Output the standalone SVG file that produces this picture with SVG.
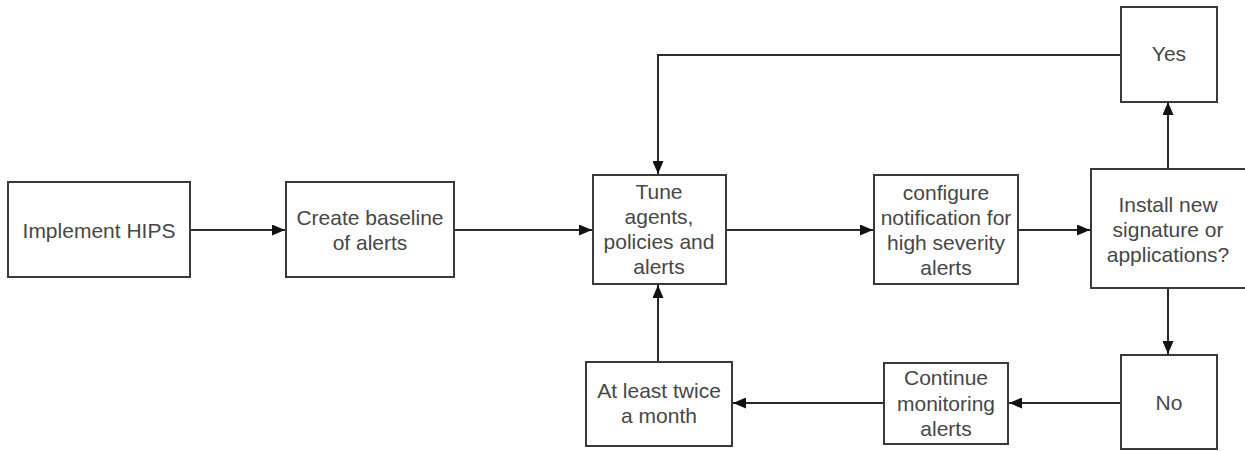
<svg xmlns="http://www.w3.org/2000/svg" width="1245" height="451" viewBox="0 0 1245 451">
<defs>
<style>
.box{fill:#fff;stroke:#3a3a3a;stroke-width:2}
.t{font-family:"Liberation Sans",Arial,sans-serif;font-size:21px;fill:#474747;text-anchor:middle;dominant-baseline:central}
.c{fill:none;stroke:#2a2a2a;stroke-width:2}
</style>
<marker id="ah" viewBox="0 0 13 11" refX="13" refY="5.5" markerWidth="13" markerHeight="11" markerUnits="userSpaceOnUse" orient="auto">
<path d="M0,0 L13,5.5 L0,11 Z" fill="#111"/>
</marker>
</defs>
<rect width="1245" height="451" fill="#fff"/>
<g id="connectors">
<line class="c" x1="190" y1="230" x2="285" y2="230" marker-end="url(#ah)"/>
<line class="c" x1="454" y1="230" x2="592" y2="230" marker-end="url(#ah)"/>
<line class="c" x1="726" y1="230" x2="873" y2="230" marker-end="url(#ah)"/>
<line class="c" x1="1018" y1="230" x2="1090" y2="230" marker-end="url(#ah)"/>
<line class="c" x1="1168" y1="169" x2="1168" y2="102" marker-end="url(#ah)"/>
<polyline class="c" points="1121,55 658,55 658,174" marker-end="url(#ah)"/>
<line class="c" x1="1168" y1="288" x2="1168" y2="354" marker-end="url(#ah)"/>
<line class="c" x1="1121" y1="403" x2="1009" y2="403" marker-end="url(#ah)"/>
<line class="c" x1="884" y1="403" x2="733" y2="403" marker-end="url(#ah)"/>
<line class="c" x1="658" y1="362" x2="658" y2="285" marker-end="url(#ah)"/>
</g>
<g id="implement">
<rect class="box" x="8" y="182" width="182" height="95"/>
<text class="t" x="99" y="230">Implement HIPS</text>
</g>
<g id="baseline">
<rect class="box" x="286" y="182" width="168" height="95"/>
<text class="t" x="370" y="217">Create baseline</text>
<text class="t" x="370" y="242">of alerts</text>
</g>
<g id="tune">
<rect class="box" x="593" y="175" width="133" height="109"/>
<text class="t" x="659" y="191">Tune</text>
<text class="t" x="659" y="216">agents,</text>
<text class="t" x="659" y="241">policies and</text>
<text class="t" x="659" y="266">alerts</text>
</g>
<g id="configure">
<rect class="box" x="874" y="175" width="144" height="109"/>
<text class="t" x="946" y="192">configure</text>
<text class="t" x="946" y="217">notification for</text>
<text class="t" x="946" y="242">high severity</text>
<text class="t" x="946" y="267">alerts</text>
</g>
<g id="install">
<rect class="box" x="1091" y="169" width="160" height="119"/>
<text class="t" x="1168" y="204">Install new</text>
<text class="t" x="1168" y="229">signature or</text>
<text class="t" x="1168" y="254">applications?</text>
</g>
<g id="yes">
<rect class="box" x="1121" y="7" width="96" height="95"/>
<text class="t" x="1169" y="53">Yes</text>
</g>
<g id="no">
<rect class="box" x="1121" y="355" width="96" height="94"/>
<text class="t" x="1169" y="402">No</text>
</g>
<g id="continue">
<rect class="box" x="884" y="363" width="124" height="81"/>
<text class="t" x="946" y="377">Continue</text>
<text class="t" x="946" y="403">monitoring</text>
<text class="t" x="946" y="428">alerts</text>
</g>
<g id="twice">
<rect class="box" x="586" y="362" width="146" height="84"/>
<text class="t" x="659" y="390">At least twice</text>
<text class="t" x="659" y="415">a month</text>
</g>
</svg>
